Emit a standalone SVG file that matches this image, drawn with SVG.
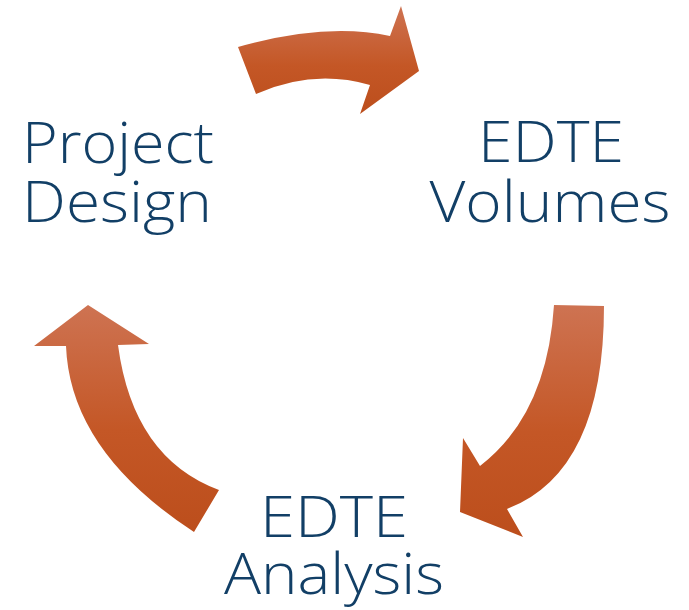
<svg xmlns="http://www.w3.org/2000/svg" width="689" height="610" viewBox="0 0 689 610">
<style>
.lbl{font-family:"Open Sans","Lato","Liberation Sans",sans-serif;font-weight:300;font-size:57px;fill:#123F66;text-anchor:middle}
.arr{fill:url(#g)}
</style>
<defs>
<linearGradient id="g" x1="0" y1="0" x2="0" y2="1">
<stop offset="0" stop-color="#CE7352"/>
<stop offset="0.55" stop-color="#C45726"/>
<stop offset="1" stop-color="#BC4E1C"/>
</linearGradient>
</defs>
<rect width="689" height="610" fill="#FFFFFF"/>
<g id="connectors">
<path id="arrow-top" class="arr" d="M238,47 Q326,22 390,36 L401,6 L419,71 L360,114 L370,85 Q313,68.5 256,94 Z"/>
<path id="arrow-right" class="arr" d="M554,305 L604,306 Q604,472 507,509 L523,537 L460,512 L463,438 L480,466 Q547,414.5 554,305 Z"/>
<path id="arrow-left" class="arr" d="M88,305 L149,344 L118,345 Q133,458 219,490 L194,532 Q70,451 66,346 L34,346 Z"/>
</g>
<g id="project-design">
<text class="lbl"><tspan x="118" y="163" textLength="192" lengthAdjust="spacingAndGlyphs">Project</tspan><tspan x="117" y="222" textLength="190" lengthAdjust="spacingAndGlyphs">Design</tspan></text>
</g>
<g id="edte-volumes">
<text class="lbl"><tspan x="551" y="162" textLength="146" lengthAdjust="spacingAndGlyphs">EDTE</tspan><tspan x="550" y="222" textLength="241" lengthAdjust="spacingAndGlyphs">Volumes</tspan></text>
</g>
<g id="edte-analysis">
<text class="lbl"><tspan x="334" y="537" textLength="148" lengthAdjust="spacingAndGlyphs">EDTE</tspan><tspan x="334" y="594" textLength="220" lengthAdjust="spacingAndGlyphs">Analysis</tspan></text>
</g>
</svg>
